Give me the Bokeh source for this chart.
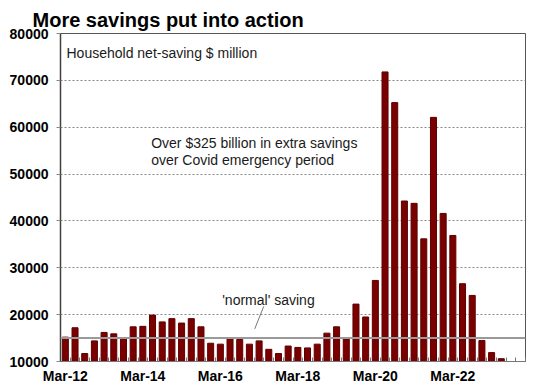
from bokeh.plotting import figure
from bokeh.models import FixedTicker, Range1d, Label, Span, ColumnDataSource
from bokeh.embed import file_html
from bokeh.resources import INLINE

quarters = ["Mar-12","Jun-12","Sep-12","Dec-12","Mar-13","Jun-13","Sep-13","Dec-13",
            "Mar-14","Jun-14","Sep-14","Dec-14","Mar-15","Jun-15","Sep-15","Dec-15",
            "Mar-16","Jun-16","Sep-16","Dec-16","Mar-17","Jun-17","Sep-17","Dec-17",
            "Mar-18","Jun-18","Sep-18","Dec-18","Mar-19","Jun-19","Sep-19","Dec-19",
            "Mar-20","Jun-20","Sep-20","Dec-20","Mar-21","Jun-21","Sep-21","Dec-21",
            "Mar-22","Jun-22","Sep-22","Dec-22","Mar-23","Jun-23","Sep-23","Dec-23"]
saving = [15200, 17200, 11700, 14400, 16200, 15900, 15100, 17400,
          17500, 19900, 18450, 19150, 18200, 19150, 17400, 13900,
          13700, 15000, 14700, 13700, 14400, 12600, 11700, 13300,
          13000, 12900, 13700, 16050, 17400, 14800, 22250, 19500,
          27300, 71800, 65250, 44250, 43750, 36170, 62100, 41600,
          36900, 26600, 24100, 14470, 11900, 10600, float("nan"), float("nan")]
normal_saving = 15000
tick_labels = ["Mar-12", "Mar-14", "Mar-16", "Mar-18", "Mar-20", "Mar-22"]
y_ticks = [10000, 20000, 30000, 40000, 50000, 60000, 70000, 80000]

xs = list(range(len(quarters)))
src = ColumnDataSource(data=dict(x=xs, top=saving, q=quarters))

FONT = "Liberation Sans"

p = figure(width=533, height=386, output_backend="svg", toolbar_location=None,
           x_range=Range1d(-0.5, len(quarters) - 0.5), y_range=Range1d(10000, 80000),
           min_border_left=60, min_border_right=8, min_border_bottom=24, min_border_top=33)
p.title.text = "More savings put into action"
p.title.text_font = FONT
p.title.text_font_size = "20px"
p.title.text_font_style = "bold"
p.title.align = "left"
p.title.offset = -28
p.title.standoff = 6
p.title.text_color = "#000000"

p.outline_line_color = "#555555"
p.outline_line_width = 1

p.vbar(x="x", top="top", bottom=10000, width=0.62, source=src,
       fill_color="#7a0000", line_color="#5c0000", line_width=1)

p.add_layout(Span(location=normal_saving, dimension="width", line_color="#9a9a9a", line_width=2))

# y axis
p.yaxis.ticker = FixedTicker(ticks=y_ticks)
p.yaxis.major_label_text_font = FONT
p.yaxis.major_label_text_font_size = "14px"
p.yaxis.major_label_text_font_style = "bold"
p.yaxis.major_label_text_color = "#000000"
p.yaxis.major_tick_out = 4
p.yaxis.major_tick_in = 0
p.yaxis.major_tick_line_color = "#888888"
p.yaxis.minor_tick_line_color = None
p.yaxis.axis_line_color = "#404040"
p.yaxis.axis_line_width = 1.5
p.yaxis.major_label_standoff = 8

# x axis
idx = [quarters.index(t) for t in tick_labels]
p.xaxis.ticker = FixedTicker(ticks=idx, minor_ticks=[i + 0.5 for i in range(-1, len(quarters))])
p.xaxis.major_label_overrides = {i: t for i, t in zip(idx, tick_labels)}
p.xaxis.major_label_text_font = FONT
p.xaxis.major_label_text_font_size = "14px"
p.xaxis.major_label_text_font_style = "bold"
p.xaxis.major_label_text_color = "#000000"
p.xaxis.major_tick_line_color = None
p.xaxis.minor_tick_in = 4
p.xaxis.minor_tick_out = 0
p.xaxis.minor_tick_line_color = "#777777"
p.xaxis.axis_line_color = "#777777"
p.xaxis.major_label_standoff = 0

p.xgrid.grid_line_color = None
p.ygrid.ticker = FixedTicker(ticks=y_ticks[1:-1])
p.ygrid.grid_line_color = "#888888"
p.ygrid.grid_line_dash = "2 2"
p.ygrid.grid_line_width = 1

def lab(x, y, t, size="14px"):
    p.add_layout(Label(x=x, y=y, text=t, text_font=FONT, text_font_size=size,
                       text_color="#1a1a1a", text_baseline="alphabetic"))

lab(0.12, 75800, "Household net-saving $ million")
lab(8.86, 56530, "Over $325 billion in extra savings")
lab(8.86, 52980, "over Covid emergency period")
lab(16.19, 23190, "'normal' saving")
p.line(x=[20.48, 19.55], y=[21770, 16960], line_color="#777777", line_width=1)

open("out.html", "w").write(file_html(p, INLINE))
